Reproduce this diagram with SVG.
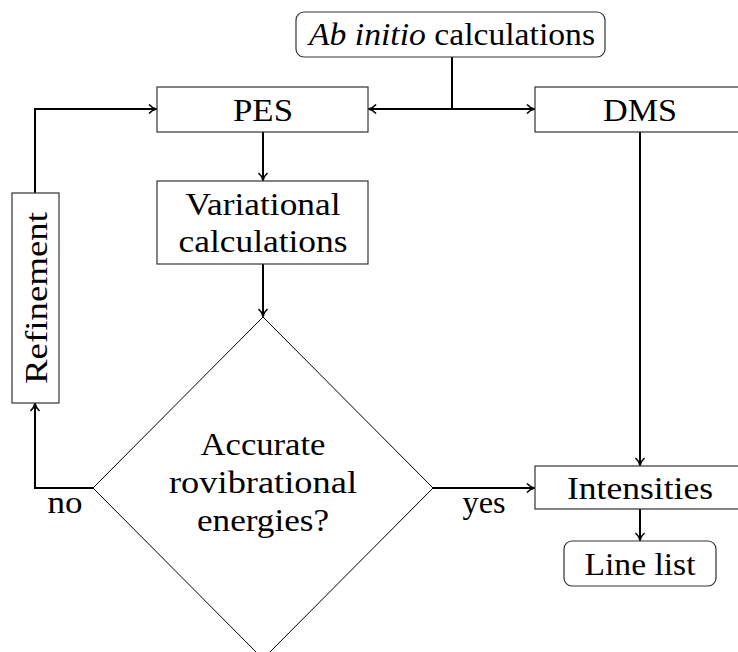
<svg xmlns="http://www.w3.org/2000/svg" width="738" height="652" viewBox="0 0 738 652">
<style>
text{font-family:"Liberation Serif","DejaVu Serif",serif;font-size:31px;fill:#000;text-anchor:middle}
.box{fill:#fff;stroke:#333;stroke-width:1.2}
.dia{fill:none;stroke:#000;stroke-width:1}
.con{fill:none;stroke:#000;stroke-width:2}
</style>
<defs>
<marker id="arr" markerWidth="12" markerHeight="12" refX="9" refY="6" orient="auto" markerUnits="userSpaceOnUse">
<path d="M2,1.5 Q5,5 9.5,6 Q5,7 2,10.5" fill="none" stroke="#000" stroke-width="1.6" stroke-linejoin="round"/>
</marker>
</defs>
<rect width="738" height="652" fill="#fff"/>
<g id="connectors">
<path class="con" d="M452,57 V109"/>
<path class="con" d="M452,109 H369" marker-end="url(#arr)"/>
<path class="con" d="M452,109 H534" marker-end="url(#arr)"/>
<path class="con" d="M263,132 V180" marker-end="url(#arr)"/>
<path class="con" d="M263,264 V316" marker-end="url(#arr)"/>
<path class="con" d="M35,193 V109 H156" marker-end="url(#arr)"/>
<path class="con" d="M93,488 H35 V404" marker-end="url(#arr)"/>
<path class="con" d="M433,488 H534" marker-end="url(#arr)"/>
<path class="con" d="M640,132 V465" marker-end="url(#arr)"/>
<path class="con" d="M640,509 V540" marker-end="url(#arr)"/>
<text x="65" y="513" textLength="35" lengthAdjust="spacingAndGlyphs">no</text>
<text x="484" y="513" textLength="43" lengthAdjust="spacingAndGlyphs">yes</text>
</g>
<g id="abinitio">
<rect class="box" x="296" y="12" width="309" height="45" rx="8"/>
<text x="452" y="45" textLength="286" lengthAdjust="spacingAndGlyphs"><tspan font-style="italic">Ab initio</tspan> calculations</text>
</g>
<g id="pes">
<rect class="box" x="157" y="87" width="211" height="45"/>
<text x="263" y="121" textLength="60" lengthAdjust="spacingAndGlyphs">PES</text>
</g>
<g id="dms">
<rect class="box" x="535" y="87" width="211" height="45"/>
<text x="640" y="121" textLength="74" lengthAdjust="spacingAndGlyphs">DMS</text>
</g>
<g id="variational">
<rect class="box" x="157" y="181" width="211" height="83"/>
<text x="263" y="215" textLength="155" lengthAdjust="spacingAndGlyphs">Variational</text>
<text x="263" y="252" textLength="169" lengthAdjust="spacingAndGlyphs">calculations</text>
</g>
<g id="decision">
<polygon class="dia" points="263,317 433,488 263,659 93,488"/>
<text x="263" y="455" textLength="125" lengthAdjust="spacingAndGlyphs">Accurate</text>
<text x="263" y="493" textLength="188" lengthAdjust="spacingAndGlyphs">rovibrational</text>
<text x="263" y="531" textLength="132" lengthAdjust="spacingAndGlyphs">energies?</text>
</g>
<g id="refinement">
<rect class="box" x="12" y="193" width="47" height="210"/>
<text transform="translate(47,298) rotate(-90)" x="0" y="0" textLength="172" lengthAdjust="spacingAndGlyphs">Refinement</text>
</g>
<g id="intensities">
<rect class="box" x="535" y="466" width="211" height="43"/>
<text x="640" y="499" textLength="146" lengthAdjust="spacingAndGlyphs">Intensities</text>
</g>
<g id="linelist">
<rect class="box" x="564" y="541" width="152" height="45" rx="8"/>
<text x="640" y="575" textLength="111" lengthAdjust="spacingAndGlyphs">Line list</text>
</g>
</svg>
